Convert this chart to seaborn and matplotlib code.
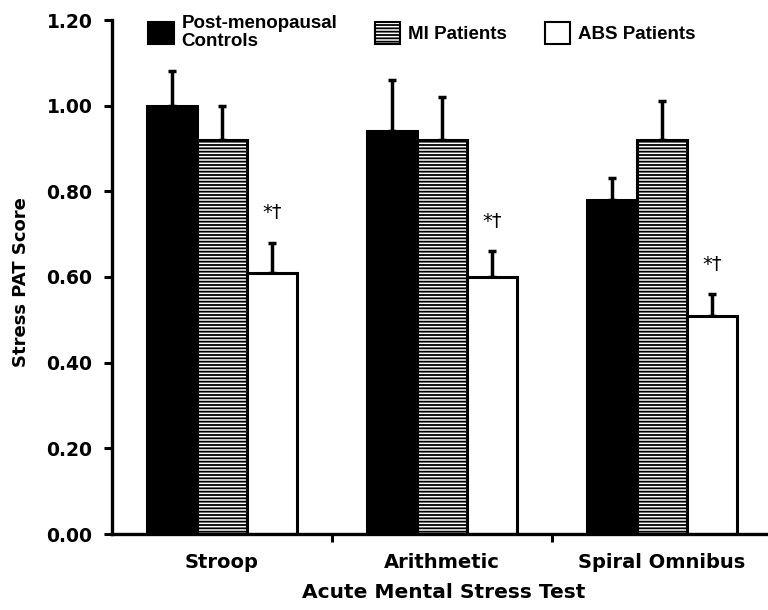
import matplotlib
matplotlib.use("Agg")
import matplotlib.pyplot as plt
from matplotlib.patches import Patch
import numpy as np
import pandas as pd
import seaborn as sns

# Stress PAT scores by acute mental stress test and group
tests = ["Stroop", "Arithmetic", "Spiral Omnibus"]
groups = ["Post-menopausal\nControls", "MI Patients", "ABS Patients"]
controls = [1.00, 0.94, 0.78]
mi_patients = [0.92, 0.92, 0.92]
abs_patients = [0.61, 0.60, 0.51]
controls_err = [0.08, 0.12, 0.05]
mi_err = [0.08, 0.10, 0.09]
abs_err = [0.07, 0.06, 0.05]
abs_marks = ["*†", "*†", "*†"]
yticks = [0.00, 0.20, 0.40, 0.60, 0.80, 1.00, 1.20]

sns.set_style("ticks")
plt.rcParams["font.family"] = ["DejaVu Sans"]
plt.rcParams["hatch.linewidth"] = 1.3
for key in ["text.color", "axes.labelcolor", "xtick.color", "ytick.color",
            "axes.edgecolor"]:
    plt.rcParams[key] = "black"

df = pd.DataFrame({
    "test": tests * 3,
    "group": [g for g in groups for _ in tests],
    "score": controls + mi_patients + abs_patients,
})
errors = [controls_err, mi_err, abs_err]

fig = plt.figure(figsize=(7.68, 6.10), dpi=100)
left_px, right_px, bottom_px, top_px = 112, 768, 534, 20
ax = fig.add_axes([left_px / 768, 1 - bottom_px / 610,
                   (right_px - left_px) / 768, (bottom_px - top_px) / 610])

sns.barplot(data=df, x="test", y="score", hue="group", order=tests,
            hue_order=groups, palette=["black", "white", "white"],
            edgecolor="black", linewidth=2.2, width=0.68, gap=0,
            errorbar=None, legend=False, ax=ax, saturation=1)

bar_containers = list(ax.containers)
hatches = ["", "-----", ""]
for cont, hatch in zip(bar_containers, hatches):
    for bar in cont:
        bar.set_hatch(hatch)
        bar.set_zorder(2)

# upward-only error bars and significance marks
for gi, cont in enumerate(bar_containers):
    xs = [b.get_x() + b.get_width() / 2 for b in cont]
    ys = [b.get_height() for b in cont]
    errs = errors[gi]
    ax.errorbar(xs, ys, yerr=[np.zeros(len(errs)), errs], fmt="none",
                ecolor="black", elinewidth=2.5, capsize=3.2, capthick=2.5,
                zorder=1)
    if gi == 2:
        for x, y, e, m in zip(xs, ys, errs, abs_marks):
            ax.text(x, y + e + 0.07, m, ha="center", va="center",
                    fontsize=14, color="black")

ax.set_ylim(0, 1.2)
ax.set_xlim(-0.5, (right_px - left_px) / 220 - 0.5)
ax.set_yticks(yticks)
ax.set_yticklabels([f"{v:.2f}" for v in yticks], fontsize=13.5,
                   fontweight="bold")
ax.set_xticks(range(len(tests)))
ax.set_xticklabels(tests, fontsize=14, fontweight="bold")
ax.set_xticks([0.5, 1.5], minor=True)
ax.tick_params(axis="x", which="major", length=0, pad=14)
ax.tick_params(axis="x", which="minor", length=6, width=2.2, direction="out")
ax.tick_params(axis="y", length=6, width=2.2, direction="out", pad=8)

for side in ["top", "right"]:
    ax.spines[side].set_visible(False)
for side in ["left", "bottom"]:
    ax.spines[side].set_linewidth(2.4)

ax.set_ylabel("Stress PAT Score", fontsize=13, fontweight="bold")
ax.set_xlabel("Acute Mental Stress Test", fontsize=14.5, fontweight="bold")
ax.yaxis.set_label_coords(-0.125, 0.49)
ax.xaxis.set_label_coords(0.505, -0.095)

handles = [
    Patch(facecolor="black", edgecolor="black", linewidth=1.5),
    Patch(facecolor="white", edgecolor="black", linewidth=1.5, hatch="-----"),
    Patch(facecolor="white", edgecolor="black", linewidth=1.5),
]
leg = ax.legend(handles, groups, ncol=3, loc="upper left",
                bbox_to_anchor=(0.055, 1.010), frameon=False,
                prop={"family": "Liberation Sans", "weight": "bold", "size": 13.5},
                handlelength=1.36, handleheight=1.45, handletextpad=0.42,
                columnspacing=2.0, borderpad=0, borderaxespad=0)
for t in leg.get_texts():
    t.set_linespacing(1.1)

fig.savefig("out.png", dpi=100)
